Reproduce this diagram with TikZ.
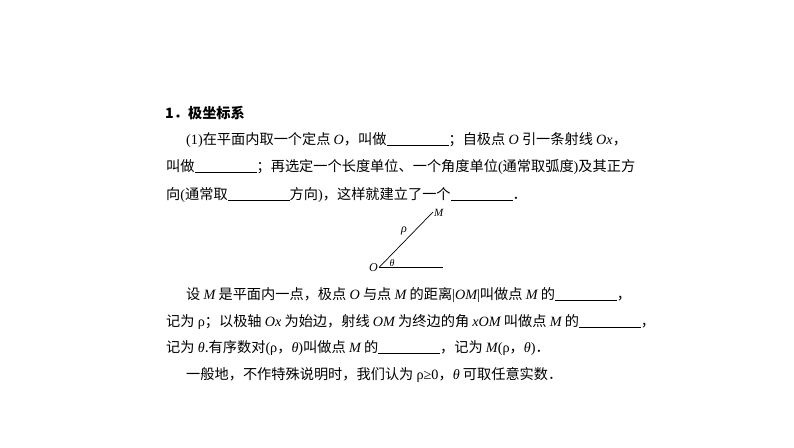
\documentclass[tikz,border=0pt]{standalone}
\usepackage{fontspec}
\setmainfont{Liberation Serif}
\newfontfamily\cjk{Noto Sans CJK SC}
\newcommand{\bl}{\rule[-2pt]{62pt}{0.6pt}}
\newcommand{\mi}[1]{{\rmfamily\itshape #1}}
\newcommand{\la}[1]{{\rmfamily #1}}
\begin{document}
\begin{tikzpicture}[x=1pt,y=-1pt,
  ln/.style={anchor=base west,inner sep=0pt,font=\cjk\fontsize{14.2}{16}\selectfont}]
\useasboundingbox (0,0) rectangle (794,447);
\node[ln,font=\cjk\bfseries\fontsize{14.2}{16}\selectfont] (t) at (165,118) {1．极坐标系};
\node[ln] (l1) at (186,144) {\la{(1)}在平面内取一个定点 \mi{O}，叫做\bl；自极点 \mi{O} 引一条射线 \mi{Ox}，};
\node[ln] (l2) at (166,171) {叫做\bl；再选定一个长度单位、一个角度单位\la{(}通常取弧度\la{)}及其正方};
\node[ln] (l3) at (166,199) {向\la{(}通常取\bl 方向\la{)}，这样就建立了一个\bl．};
\node[ln] (l4) at (186,299) {设 \mi{M} 是平面内一点，极点 \mi{O} 与点 \mi{M} 的距离\la{|}\mi{OM}\la{|}叫做点 \mi{M} 的\bl ，};
\node[ln] (l5) at (166,326) {记为 \la{ρ}；以极轴 \mi{Ox} 为始边，射线 \mi{OM} 为终边的角 \mi{xOM} 叫做点 \mi{M} 的\bl，};
\node[ln] (l6) at (166,352) {记为 \mi{θ}.有序数对\la{(ρ}，\mi{θ}\la{)}叫做点 \mi{M} 的\bl，记为 \mi{M}\la{(ρ}，\mi{θ}\la{)}．};
\node[ln] (l7) at (186,379) {一般地，不作特殊说明时，我们认为 \la{ρ≥0}，\mi{θ} 可取任意实数．};
% diagram
\coordinate (O) at (379,267.5);
\coordinate (E) at (443,267.5);
\coordinate (Mp) at (433,212);
\draw[line width=0.7pt] (O) -- (E);
\draw[line width=0.7pt] (O) -- (Mp);
\node[font=\itshape\fontsize{12}{12}\selectfont,anchor=east,inner sep=1pt] (Ol) at (O) {O};
\node[font=\itshape\fontsize{11}{11}\selectfont,anchor=west,inner sep=1pt] (Ml) at (433,213) {M};
\node[font=\itshape\fontsize{12}{12}\selectfont] (rl) at (404,231) {ρ};
\node[font=\itshape\fontsize{10}{10}\selectfont] (tl) at (392,263) {θ};
\end{tikzpicture}
\end{document}
